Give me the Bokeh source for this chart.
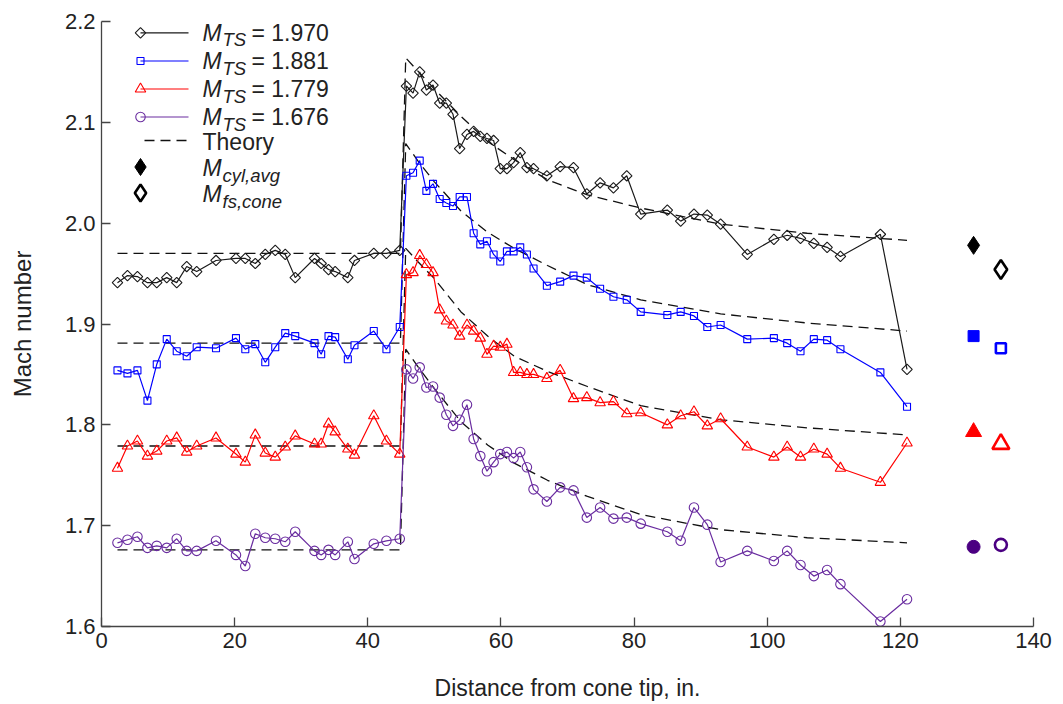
import numpy as np
from bokeh.plotting import figure
from bokeh.models import Range1d, FixedTicker, PrintfTickFormatter
from bokeh.core.properties import value
from bokeh.embed import file_html
from bokeh.resources import INLINE

# ---------------- data ----------------
x_up = [2.4, 3.9, 5.4, 6.9, 8.3, 9.8, 11.3, 12.8, 14.3, 17.2, 20.2, 21.6, 23.1,
        24.6, 26.1, 27.6, 29.1, 32.0, 33.0, 34.1, 35.1, 37.0, 38.0, 40.9, 42.8, 44.8]
x_dn = [45.8, 46.8, 47.8, 48.8, 49.8, 50.8, 51.8, 52.8, 53.8, 54.9, 55.9, 56.9, 57.9,
        58.9, 59.9, 60.9, 61.9, 62.9, 63.9, 64.9, 66.9, 68.9, 70.9, 72.9, 74.9, 76.9,
        78.9, 81.0, 85.0, 87.0, 89.0, 91.0, 93.0, 97.0, 101.0, 103.0, 105.0, 107.0,
        109.0, 111.0, 117.0, 121.0]

m1970_up = [1.941, 1.948, 1.947, 1.941, 1.941, 1.946, 1.941, 1.957, 1.952, 1.963, 1.965,
            1.965, 1.960, 1.969, 1.973, 1.969, 1.946, 1.965, 1.960, 1.954, 1.952, 1.946,
            1.963, 1.970, 1.970, 1.973]
m1970_dn = [2.136, 2.129, 2.150, 2.132, 2.137, 2.119, 2.119, 2.108, 2.074, 2.088, 2.091,
            2.086, 2.084, 2.082, 2.054, 2.054, 2.060, 2.070, 2.055, 2.054, 2.047, 2.056,
            2.055, 2.029, 2.040, 2.035, 2.047, 2.009, 2.013, 2.002, 2.009, 2.008, 1.999,
            1.969, 1.984, 1.988, 1.985, 1.980, 1.976, 1.967, 1.989, 1.855]

m1881_up = [1.854, 1.851, 1.854, 1.824, 1.860, 1.885, 1.873, 1.868, 1.877, 1.876, 1.886,
            1.875, 1.880, 1.862, 1.877, 1.891, 1.888, 1.881, 1.870, 1.888, 1.887, 1.865,
            1.879, 1.893, 1.875, 1.897]
m1881_dn = [2.047, 2.050, 2.062, 2.032, 2.039, 2.024, 2.020, 2.017, 2.026, 2.026, 1.990,
            1.979, 1.982, 1.969, 1.962, 1.972, 1.972, 1.976, 1.969, 1.955, 1.938, 1.942,
            1.948, 1.946, 1.935, 1.927, 1.924, 1.912, 1.909, 1.912, 1.908, 1.897, 1.899,
            1.885, 1.886, 1.881, 1.873, 1.885, 1.884, 1.875, 1.852, 1.818]

m1779_up = [1.757, 1.779, 1.784, 1.769, 1.774, 1.784, 1.787, 1.773, 1.779, 1.787, 1.771,
            1.763, 1.790, 1.772, 1.768, 1.778, 1.789, 1.781, 1.781, 1.801, 1.793, 1.776,
            1.770, 1.809, 1.784, 1.771]
m1779_dn = [1.949, 1.951, 1.968, 1.959, 1.951, 1.914, 1.903, 1.899, 1.888, 1.899, 1.893,
            1.886, 1.870, 1.878, 1.877, 1.880, 1.852, 1.852, 1.850, 1.850, 1.846, 1.854,
            1.826, 1.827, 1.822, 1.823, 1.811, 1.812, 1.800, 1.809, 1.813, 1.799, 1.806,
            1.778, 1.768, 1.778, 1.768, 1.776, 1.771, 1.757, 1.743, 1.782]

m1676_up = [1.683, 1.686, 1.689, 1.678, 1.680, 1.678, 1.687, 1.675, 1.675, 1.685, 1.671,
            1.660, 1.692, 1.688, 1.687, 1.684, 1.694, 1.675, 1.671, 1.676, 1.671, 1.684,
            1.667, 1.682, 1.685, 1.687]
m1676_dn = [1.855, 1.846, 1.857, 1.837, 1.838, 1.827, 1.810, 1.799, 1.805, 1.820, 1.786,
            1.769, 1.754, 1.763, 1.771, 1.773, 1.767, 1.773, 1.758, 1.736, 1.724, 1.738,
            1.735, 1.708, 1.718, 1.707, 1.708, 1.702, 1.694, 1.685, 1.718, 1.701, 1.664,
            1.675, 1.665, 1.675, 1.661, 1.650, 1.656, 1.642, 1.605, 1.627]

x_theory = [2.4, 44.9, 45.7, 47.5, 50, 54, 58, 62, 67, 73, 81, 93, 106, 121]
th_1970 = [1.970, 1.970, 2.164, 2.151, 2.133, 2.106, 2.081, 2.063, 2.043, 2.028, 2.015, 1.999, 1.990, 1.983]
th_1881 = [1.881, 1.881, 2.079, 2.062, 2.041, 2.012, 1.991, 1.975, 1.958, 1.939, 1.924, 1.910, 1.901, 1.893]
th_1779 = [1.779, 1.779, 1.975, 1.962, 1.945, 1.912, 1.888, 1.868, 1.853, 1.838, 1.819, 1.805, 1.797, 1.790]
th_1676 = [1.676, 1.676, 1.875, 1.858, 1.836, 1.803, 1.780, 1.762, 1.745, 1.729, 1.711, 1.696, 1.688, 1.683]

x_cyl_avg = 131.0
x_fs_cone = 135.1
m_cyl_avg = [1.978, 1.888, 1.793, 1.679]
m_fs_cone = [1.954, 1.876, 1.781, 1.681]

mts_labels = ["1.970", "1.881", "1.779", "1.676"]
x_ticks = [0, 20, 40, 60, 80, 100, 120, 140]
y_ticks = [1.6, 1.7, 1.8, 1.9, 2.0, 2.1, 2.2]

# ---------------- styles ----------------
colors = ["#1a1a1a", "#0000ff", "#ff0000", "#6a2da0"]
solid_colors = ["#000000", "#0000ff", "#ff0000", "#4b0082"]
markers = [dict(marker="square", angle=np.pi / 4, size=7.4),
           dict(marker="square", angle=0.0, size=7),
           dict(marker="triangle", angle=0.0, size=10.5),
           dict(marker="circle", angle=0.0, size=9.5)]
big_markers = [dict(marker="diamond", size=18), dict(marker="square", size=11),
               dict(marker="triangle", size=16), dict(marker="circle", size=13)]
big_open = [dict(marker="diamond", size=19), dict(marker="square", size=10),
            dict(marker="triangle", size=17), dict(marker="circle", size=12)]

FONT = value("Liberation Sans")
TXT = "#222222"
LEG_FS = "23px"
SUB_FS = "18.5px"

FL, FW, FT, FH = 101, 932, 21, 605
X0, X1, Y0, Y1 = 0, 140, 1.6, 2.2

p = figure(width=1063, height=704, output_backend="svg", toolbar_location=None,
           x_range=Range1d(X0, X1), y_range=Range1d(Y0, Y1),
           min_border_left=FL, min_border_right=1063 - FL - FW,
           min_border_top=FT, min_border_bottom=704 - FT - FH)
p.outline_line_color = None
p.grid.grid_line_color = None
p.background_fill_color = "white"
p.border_fill_color = "white"

for ax in (p.xaxis[0], p.yaxis[0]):
    ax.major_tick_in = 9
    ax.major_tick_out = 0
    ax.minor_tick_line_color = None
    ax.axis_line_color = "#444444"
    ax.axis_line_width = 1.3
    ax.major_tick_line_color = "#444444"
    ax.major_tick_line_width = 1.3
    ax.major_label_text_font = "Liberation Sans"
    ax.major_label_text_font_size = "22px"
    ax.major_label_text_color = TXT
    ax.axis_label_text_font = "Liberation Sans"
    ax.axis_label_text_font_style = "normal"
    ax.axis_label_text_color = TXT
    ax.major_label_standoff = 6
p.xaxis.axis_label_text_font_size = "23px"
p.yaxis.axis_label_text_font_size = "24px"
p.xaxis.ticker = FixedTicker(ticks=x_ticks)
p.yaxis.ticker = FixedTicker(ticks=y_ticks)
p.yaxis.formatter = PrintfTickFormatter(format="%.1f")
p.xaxis.axis_label = "Distance from cone tip, in."
p.yaxis.axis_label = "Mach number"
p.xaxis.axis_label_standoff = 24
p.yaxis.axis_label_standoff = 26

# theory curves
for th in (th_1970, th_1881, th_1779, th_1676):
    p.line(x_theory, th, line_color="#111111", line_width=1.3, line_dash="10 6")

# measured series
ups = [m1970_up, m1881_up, m1779_up, m1676_up]
dns = [m1970_dn, m1881_dn, m1779_dn, m1676_dn]
for up, dn, c, mk in zip(ups, dns, colors, markers):
    xs = x_up + x_dn
    ys = up + dn
    p.line(xs, ys, line_color=c, line_width=1.2)
    p.scatter(xs, ys, fill_color=None, line_color=c, line_width=1.1, **mk)

# cylinder average / free-stream values
for i in range(4):
    p.scatter([x_cyl_avg], [m_cyl_avg[i]], fill_color=solid_colors[i],
              line_color=solid_colors[i], line_width=1, **big_markers[i])
    p.scatter([x_fs_cone], [m_fs_cone[i]], fill_color=None,
              line_color=solid_colors[i], line_width=2.6, **big_open[i])

# ---------------- legend (layout in pixels) ----------------
def px_x(px):
    return X0 + (px - FL) / FW * (X1 - X0)

def px_y(py):
    return Y1 - (py - FT) / FH * (Y1 - Y0)

row_py = [32.3, 60.5, 88.5, 116.5]
mk_px, ln_end_px, txt_px = 140, 188, 202

for i in range(4):
    yy = px_y(row_py[i])
    p.segment(x0=[px_x(mk_px)], y0=[yy], x1=[px_x(ln_end_px)], y1=[yy],
              line_color=colors[i], line_width=1.2)
    p.scatter([px_x(mk_px)], [yy], fill_color=None, line_color=colors[i],
              line_width=1.1, **markers[i])

ly = [px_y(py) for py in row_py]
lx = [px_x(txt_px)] * 4
p.text(lx, ly, text=["M"] * 4, text_font=FONT, text_font_style="italic",
       text_font_size=LEG_FS, text_baseline="middle", text_color=TXT)
p.text(lx, ly, text=["TS"] * 4, text_font=FONT, text_font_style="italic",
       text_font_size=SUB_FS, text_baseline="middle", text_color=TXT,
       x_offset=20, y_offset=7)
p.text(lx, ly, text=["= " + s for s in mts_labels], text_font=FONT,
       text_font_size=LEG_FS, text_baseline="middle", text_color=TXT, x_offset=49)

# theory legend
ty = px_y(140)
p.segment(x0=[px_x(144)], y0=[ty], x1=[px_x(188)], y1=[ty], line_color="#111111",
          line_width=1.3, line_dash="10 6")
p.text([px_x(txt_px)], [px_y(141)], text=["Theory"], text_font=FONT,
       text_font_size=LEG_FS, text_baseline="middle", text_color=TXT)

# cyl / fs legend
cy, fy = px_y(166.5), px_y(192.5)
p.scatter([px_x(mk_px)], [cy], marker="diamond", size=17, fill_color="#000000",
          line_color="#000000")
p.scatter([px_x(mk_px)], [fy], marker="diamond", size=17, fill_color=None,
          line_color="#000000", line_width=2.6)
p.text([px_x(txt_px)] * 2, [px_y(167.5), px_y(193.5)], text=["M", "M"], text_font=FONT,
       text_font_style="italic", text_font_size=LEG_FS, text_baseline="middle",
       text_color=TXT)
p.text([px_x(txt_px)] * 2, [px_y(167.5), px_y(193.5)], text=["cyl,avg", "fs,cone"],
       text_font=FONT, text_font_style="italic", text_font_size=SUB_FS,
       text_baseline="middle", text_color=TXT, x_offset=20, y_offset=7)

open("out.html", "w").write(file_html(p, INLINE))
